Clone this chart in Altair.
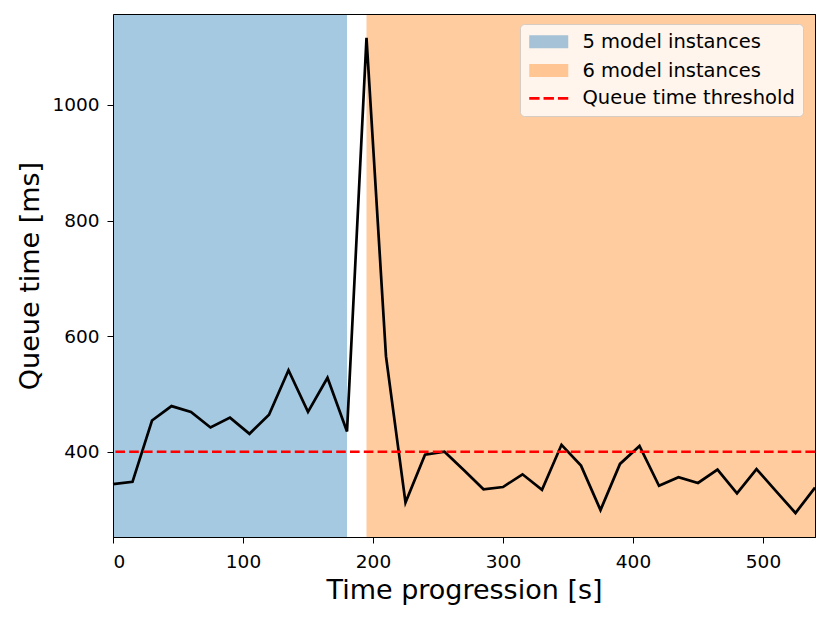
import altair as alt
import pandas as pd

# ---- data ----
time_s = [0, 15, 30, 45, 60, 75, 90, 105, 120, 135, 150, 165, 180, 195, 210,
          225, 240, 255, 270, 285, 300, 315, 330, 345, 360, 375, 390, 405,
          420, 435, 450, 465, 480, 495, 510, 525, 540]
queue_ms = [344, 348, 454, 479, 469, 442, 459, 431, 464, 541, 469, 528, 435,
            1116, 565, 312, 395, 400, 368, 335, 339, 361, 334, 412, 376, 299,
            379, 410, 341, 356, 346, 369, 328, 370, 332, 294, 338]

region_labels = ["5 model instances", "6 model instances"]
region_start = [0, 195]
region_end = [180, 540]
region_colors = ["#a5c9e1", "#ffcc9f"]

threshold = [400]
legend_labels = ["5 model instances", "6 model instances", "Queue time threshold"]
legend_fill = ["#a5c2d6", "#ffc693", "transparent"]
legend_stroke = ["transparent", "transparent", "#ff0000"]
legend_shapes = ["M-3,-1H3V1H-3Z",
                 "M-3,-1H3V1H-3Z",
                 "M-3,0H-1.415M-0.8,0H0.8M1.415,0H3"]

x_ticks = [0, 100, 200, 300, 400, 500]
y_ticks = [400, 600, 800, 1000]
x_domain = [0, 540]
y_domain = [252.5, 1157.4]

FONT = "DejaVu Sans"

line_df = pd.DataFrame({"t": time_s, "q": queue_ms})
reg_df = pd.DataFrame({"label": region_labels, "start": region_start,
                       "end": region_end})
thr_df = pd.DataFrame({"thr": threshold})
leg_df = pd.DataFrame({"label": legend_labels})

xscale = alt.Scale(domain=x_domain, nice=False, zero=False)
yscale = alt.Scale(domain=y_domain, nice=False, zero=False)

xaxis = alt.Axis(values=x_ticks, title="Time progression [s]", grid=False, format="d",
                 labelPadding=9, titleY=61, titleBaseline="alphabetic", zindex=1)
yaxis = alt.Axis(values=y_ticks, title="Queue time [ms]", grid=False, format="d",
                 labelPadding=8, titleX=-74.4, titleBaseline="alphabetic", zindex=1)
top_axis = alt.Axis(orient="top", labels=False, ticks=False, title=None,
                    grid=False, zindex=1)
right_axis = alt.Axis(orient="right", labels=False, ticks=False, title=None,
                      grid=False, zindex=1)

regions = alt.Chart(reg_df).mark_rect().encode(
    x=alt.X("start:Q", scale=xscale, axis=None),
    x2="end:Q",
    color=alt.Color("label:N", scale=alt.Scale(domain=region_labels, range=region_colors),
                    legend=None),
)

line = alt.Chart(line_df).mark_line(color="black", strokeWidth=2.7).encode(
    x=alt.X("t:Q", scale=xscale, axis=xaxis),
    y=alt.Y("q:Q", scale=yscale, axis=yaxis),
)

rule = alt.Chart(thr_df).mark_rule(color="#ff0000", strokeWidth=2.6,
                                   strokeDash=[9.6, 4.2]).encode(
    y=alt.Y("thr:Q", scale=yscale, axis=None),
)

frame = alt.Chart(line_df).mark_line(opacity=0).encode(
    x=alt.X("t:Q", scale=xscale, axis=top_axis),
    y=alt.Y("q:Q", scale=yscale, axis=right_axis),
)

leg = alt.Legend(title=None, orient="none", legendX=407, legendY=10,
                 padding=8, rowPadding=4.8, symbolSize=169, symbolStrokeWidth=2.6,
                 symbolOffset=11, symbolOpacity=1, labelFont=FONT, labelFontSize=19.5,
                 labelColor="black", labelLimit=400, labelOffset=24,
                 fillColor="#fff5ec", strokeColor="#d6ccc3", cornerRadius=4)

legend_layer = alt.Chart(leg_df).mark_point(opacity=0).encode(
    x=alt.value(0), y=alt.value(0),
    fill=alt.Fill("label:N", scale=alt.Scale(domain=legend_labels, range=legend_fill), legend=leg),
    stroke=alt.Stroke("label:N", scale=alt.Scale(domain=legend_labels, range=legend_stroke), legend=leg),
    shape=alt.Shape("label:N", scale=alt.Scale(domain=legend_labels, range=legend_shapes), legend=leg),
)

chart = alt.layer(regions, line, rule, frame, legend_layer).resolve_axis(
    x="independent", y="independent"
).properties(
    width=702, height=523,
    autosize=alt.AutoSizeParams(type="none"),
    padding={"left": 105, "top": 6, "right": 5, "bottom": 70},
).configure_view(
    stroke="black", strokeWidth=1
).configure_axis(
    labelFont=FONT, labelFontSize=18.5, labelColor="black",
    titleFont=FONT, titleFontSize=27, titleFontWeight="normal", titleColor="black",
    domainColor="black", domainWidth=1, tickColor="black", tickWidth=1, tickSize=6,
).configure_legend(
    labelFont=FONT
)

chart.save("out.html", embed_options={"renderer": "svg", "actions": False})
